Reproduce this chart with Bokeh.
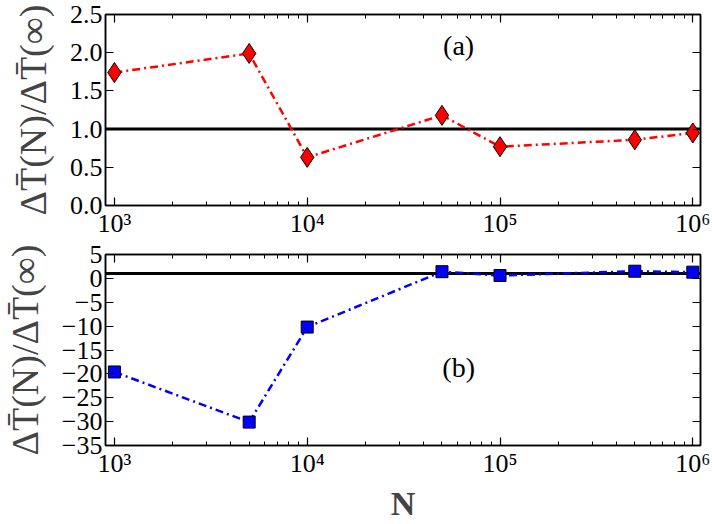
from bokeh.plotting import figure
from bokeh.models import (Range1d, FixedTicker, LogAxis, LinearAxis, Span, Label,
                          CustomJSTickFormatter, NumeralTickFormatter)
from bokeh.layouts import column
from bokeh.embed import file_html
from bokeh.resources import INLINE

# ---- data ----
N = [1e3, 5e3, 1e4, 5e4, 1e5, 5e5, 1e6]
ratio_a = [1.74, 1.99, 0.63, 1.18, 0.77, 0.86, 0.95]
ratio_b = [-19.6, -30.1, -10.2, 1.4, 0.6, 1.5, 1.3]
ref_level = 1.0
x_major = [1e3, 1e4, 1e5, 1e6]
x_minor = [m * 10 ** k for k in range(3, 6) for m in range(2, 10)]
ya_ticks = [0.0, 0.5, 1.0, 1.5, 2.0, 2.5]
yb_ticks = [-35, -30, -25, -20, -15, -10, -5, 0, 5]
ylabel = "\u0394T\u0304(N)/\u0394T\u0304(\u221e)"
xlabel = "N"

FONT = "Liberation Serif"
TICK_FS = "26px"

X_CODE = """
const sup = ["\\u2070","\\u00b9","\\u00b2","\\u00b3","\\u2074","\\u2075","\\u2076","\\u2077","\\u2078","\\u2079"];
const e = Math.round(Math.log10(tick));
return "10" + sup[e];
"""
MINUS_CODE = """
return tick < 0 ? "\\u2212" + Math.abs(tick) : String(tick);
"""
BLANK_CODE = "return ' ';"


def style_axis(ax, show_labels=True):
    ax.major_tick_in = 8
    ax.major_tick_out = 0
    ax.minor_tick_in = 4
    ax.minor_tick_out = 0
    ax.axis_line_color = "black"
    ax.axis_line_width = 1.5
    ax.major_tick_line_width = 1.2
    ax.minor_tick_line_width = 1
    ax.major_label_text_font = FONT
    ax.major_label_text_color = "black"
    ax.major_label_standoff = 3
    ax.major_label_text_font_size = TICK_FS
    if not show_labels:
        ax.formatter = CustomJSTickFormatter(code=BLANK_CODE)
        ax.major_label_text_font_size = "2px"
        ax.major_label_standoff = 0


def make_panel(ys, yrange, yticks, yfmt, color, marker, msize, tag, tag_y, bottom):
    p = figure(frame_width=595, frame_height=191,
               x_axis_type="log", x_range=Range1d(899, 1.096e6),
               y_range=Range1d(*yrange),
               output_backend="svg", toolbar_location=None,
               min_border_left=104, min_border_right=13,
               min_border_top=14, min_border_bottom=0)
    p.grid.visible = False
    p.outline_line_color = "black"
    p.outline_line_width = 1.5
    p.background_fill_color = "white"
    p.border_fill_color = "white"

    xt = FixedTicker(ticks=x_major, minor_ticks=x_minor)
    yt = FixedTicker(ticks=yticks, minor_ticks=[])

    bx = p.xaxis[0]
    ly = p.yaxis[0]
    bx.ticker = xt
    bx.formatter = CustomJSTickFormatter(code=X_CODE)
    ly.ticker = yt
    ly.formatter = yfmt
    style_axis(bx)
    style_axis(ly)

    top = LogAxis(ticker=xt)
    style_axis(top, show_labels=False)
    p.add_layout(top, "above")
    right = LinearAxis(ticker=yt)
    style_axis(right, show_labels=False)
    p.add_layout(right, "right")

    ly.axis_label = ylabel
    ly.axis_label_text_font = FONT
    ly.axis_label_text_font_size = "38px"
    ly.axis_label_text_font_style = "normal"
    ly.axis_label_standoff = 13

    if bottom:
        bx.axis_label = xlabel
        bx.axis_label_text_font = FONT
        bx.axis_label_text_font_size = "34px"
        bx.axis_label_text_font_style = "bold"
        bx.axis_label_standoff = 4

    p.add_layout(Span(location=ref_level, dimension="width", line_color="black",
                      line_width=3, level="underlay"))
    p.line(N, ys, line_color=color, line_width=2.5, line_dash="8 4 2 4")
    p.scatter(N, ys, marker=marker, size=msize, fill_color=color,
              line_color="black", line_width=1)
    p.add_layout(Label(x=6.1e4, y=tag_y, text=tag, text_font=FONT,
                       text_font_size="28px", text_align="center",
                       text_baseline="middle", text_color="black"))
    return p


p1 = make_panel(ratio_a, (0, 2.5), ya_ticks, NumeralTickFormatter(format="0.0"),
                "#ff0000", "diamond", 20, "(a)", 2.1, False)
p2 = make_panel(ratio_b, (-35, 5), yb_ticks, CustomJSTickFormatter(code=MINUS_CODE),
                "#0000ff", "square", 12, "(b)", -18.7, True)

layout = column(p1, p2, spacing=0)
open("out.html", "w").write(file_html(layout, INLINE))
